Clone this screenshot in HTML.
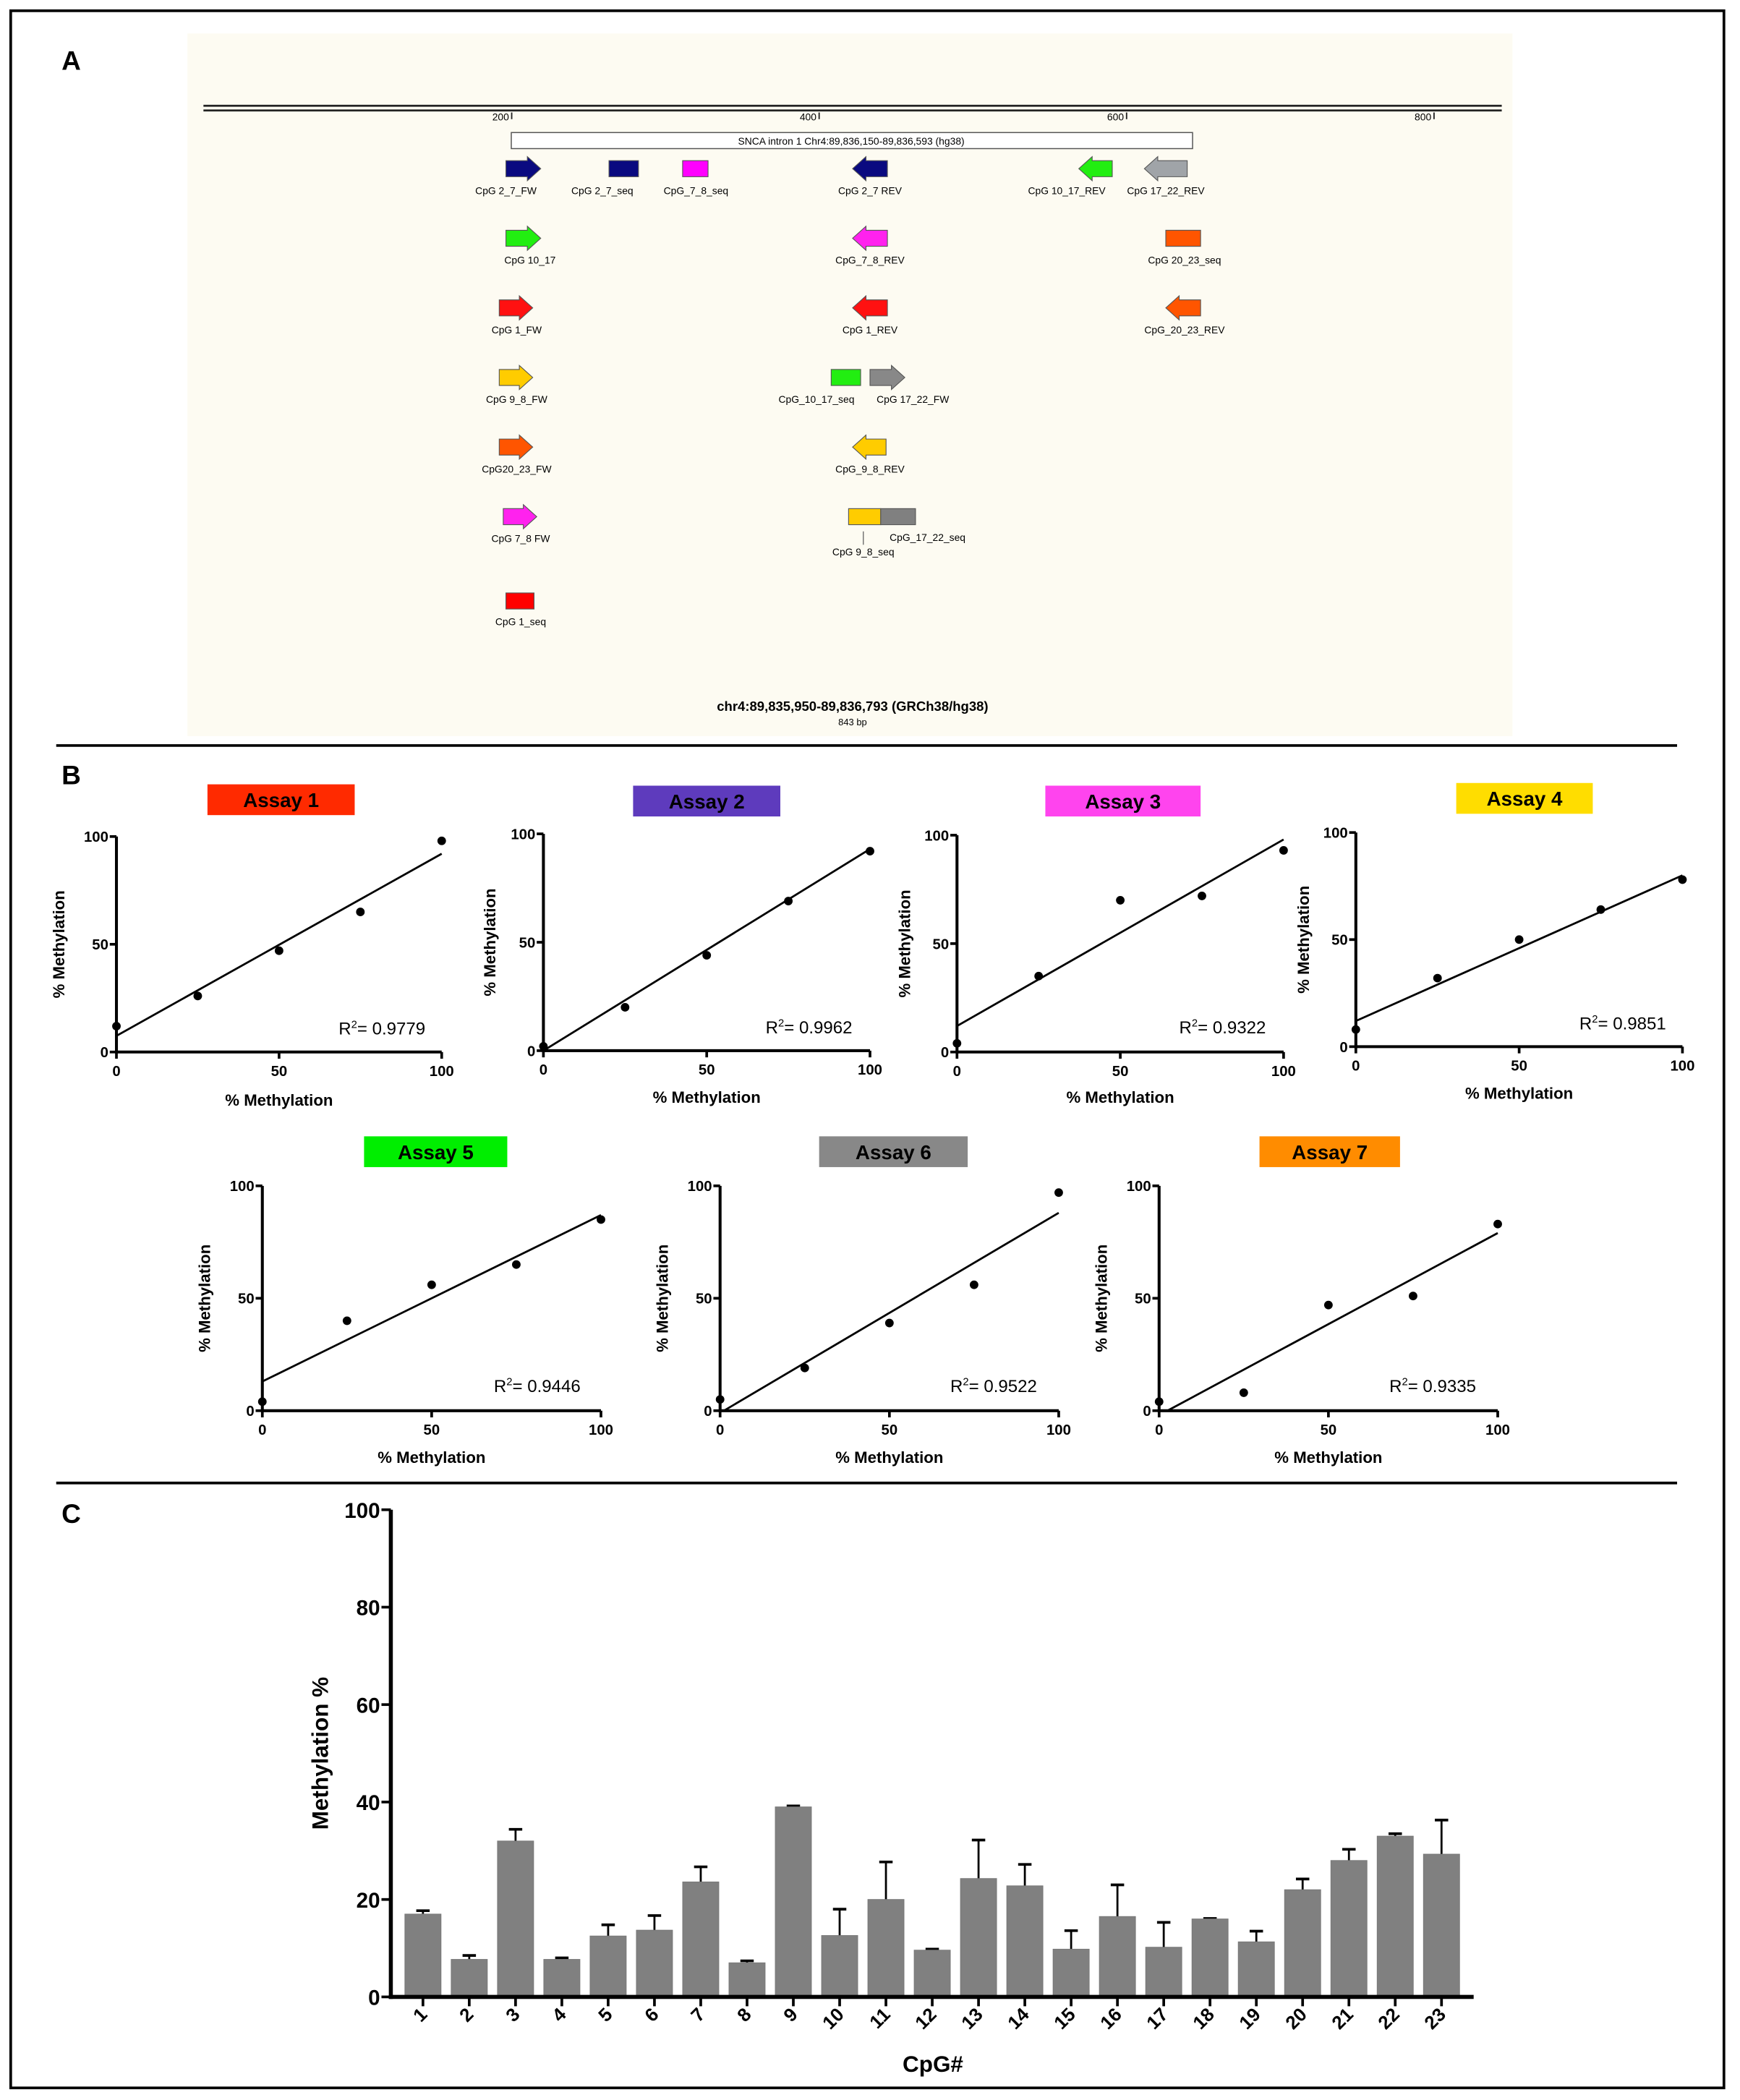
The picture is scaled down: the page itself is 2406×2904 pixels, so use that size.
<!DOCTYPE html>
<html><head><meta charset="utf-8"><style>
html,body{margin:0;padding:0;background:#fff}
svg{display:block}
text{font-family:"Liberation Sans",sans-serif}
</style></head><body>
<svg id="fig" width="2406" height="2904" viewBox="0 0 1300 1569" xmlns="http://www.w3.org/2000/svg">
<rect x="8" y="8" width="1280" height="1552" fill="#fff" stroke="#000" stroke-width="2"/>
<text x="46" y="52" font-size="20" font-weight="bold">A</text>
<text x="46" y="586" font-size="20" font-weight="bold">B</text>
<text x="46" y="1138" font-size="20" font-weight="bold">C</text>
<line x1="42" y1="557" x2="1253" y2="557" stroke="#000" stroke-width="2"/>
<line x1="42" y1="1108" x2="1253" y2="1108" stroke="#000" stroke-width="2"/>
<g id="panelA">
<rect x="140" y="25" width="990" height="525" fill="#fdfbf2"/>
<line x1="152" y1="79" x2="1122" y2="79" stroke="#222" stroke-width="1.5"/>
<line x1="152" y1="82.5" x2="1122" y2="82.5" stroke="#222" stroke-width="1.5"/>
<rect x="382" y="99" width="509" height="12" fill="#fff" stroke="#555" stroke-width="0.8"/>
<text x="636" y="108" font-size="7.5" text-anchor="middle">SNCA intron 1 Chr4:89,836,150-89,836,593 (hg38)</text>
<text x="637" y="531" font-size="10" font-weight="bold" text-anchor="middle">chr4:89,835,950-89,836,793 (GRCh38/hg38)</text>
<text x="637" y="542" font-size="7" text-anchor="middle">843 bp</text>
<line x1="645" y1="397" x2="645" y2="407" stroke="#777" stroke-width="0.8"/>
</g>
<g id="scatters"></g>
<g id="bars"></g>
</svg>
<script>
const NS="http://www.w3.org/2000/svg";
function mk(parent,tag,attrs,txt){const e=document.createElementNS(NS,tag);for(const k in attrs)e.setAttribute(k,attrs[k]);if(txt!==undefined)e.textContent=txt;parent.appendChild(e);return e;}

// ---------- Panel A: ruler ----------
const rulerTicks=[200,400,600,800];
const pA=document.getElementById('panelA');
const bpX=v=>152.6+v*(229.7/200);
rulerTicks.forEach(t=>{
  const l=mk(pA,'line',{x1:bpX(t),y1:84,x2:bpX(t),y2:89,stroke:'#222','stroke-width':1});
  
  
  const tx=mk(pA,'text',{x:bpX(t)-2,y:90,'font-size':7.5,'text-anchor':'end'},String(t));
  
  
});
// features: [label, type, x1, x2, y, color, labelX, labelY]
const features=[
 ['CpG 2_7_FW','R',378,404,126,'#0a0a80',378,145],
 ['CpG 2_7_seq','B',455,477,126,'#0a0a80',450,145],
 ['CpG_7_8_seq','B',510,529,126,'#ff00ff',520,145],
 ['CpG 2_7 REV','L',637,663,126,'#0a0a80',650,145],
 ['CpG 10_17_REV','L',806,831,126,'#22ee11',797,145],
 ['CpG 17_22_REV','L',855,887,126,'#a0a4a8',871,145],
 ['CpG 10_17','R',378,404,178,'#22ee11',396,197],
 ['CpG_7_8_REV','L',637,663,178,'#ff22ee',650,197],
 ['CpG 20_23_seq','B',871,897,178,'#ff5500',885,197],
 ['CpG 1_FW','R',373,398,230,'#ff1111',386,249],
 ['CpG 1_REV','L',637,663,230,'#ff1111',650,249],
 ['CpG_20_23_REV','L',871,897,230,'#ff5500',885,249],
 ['CpG 9_8_FW','R',373,398,282,'#ffcc00',386,301],
 ['CpG_10_17_seq','B',621,643,282,'#22ee11',610,301],
 ['CpG 17_22_FW','R',650,676,282,'#888888',682,301],
 ['CpG20_23_FW','R',373,398,334,'#ff5500',386,353],
 ['CpG_9_8_REV','L',637,662,334,'#ffcc00',650,353],
 ['CpG 7_8 FW','R',376,401,386,'#ff22ee',389,405],
 ['CpG 9_8_seq','B',634,658,386,'#ffcc00',645,415],
 ['CpG_17_22_seq','B',658,684,386,'#808080',693,404],
 ['CpG 1_seq','B',378,399,449,'#ff0000',389,467]
];
features.forEach(f=>{
  const [lab,type,x1,x2,y,col,lx,ly]=f;
  let sh;
  if(type==='B'){
    sh=mk(pA,'rect',{x:x1,y:y-6,width:x2-x1,height:12,fill:col,stroke:'#555','stroke-width':0.6});
  }else{
    const h=10,bh=6,hh=9;
    let pts;
    if(type==='R') pts=[[x1,y-bh],[x2-h,y-bh],[x2-h,y-hh],[x2,y],[x2-h,y+hh],[x2-h,y+bh],[x1,y+bh]];
    else pts=[[x2,y-bh],[x1+h,y-bh],[x1+h,y-hh],[x1,y],[x1+h,y+hh],[x1+h,y+bh],[x2,y+bh]];
    sh=mk(pA,'polygon',{points:pts.map(p=>p.join(',')).join(' '),fill:col,stroke:'#555','stroke-width':0.6});
  }
  
  
  const t=mk(pA,'text',{x:lx,y:ly,'font-size':7.5,'text-anchor':'middle'},lab);
  
  
});

// ---------- Panel B: scatter plots ----------
const assayNames=['Assay 1','Assay 2','Assay 3','Assay 4','Assay 5','Assay 6','Assay 7'];
const expectedX=[0,25,50,75,100];
const assay1Y=[12,26,47,65,98];
const assay2Y=[2,20,44,69,92];
const assay3Y=[4,35,70,72,93];
const assay4Y=[8,32,50,64,78];
const assay5Y=[4,40,56,65,85];
const assay6Y=[5,19,39,56,97];
const assay7Y=[4,8,47,51,83];
const assayY=[assay1Y,assay2Y,assay3Y,assay4Y,assay5Y,assay6Y,assay7Y];
const fitIntercept=[7.5,0,12,12,13,-1,-2];
const fitSlope=[0.845,0.93,0.86,0.68,0.74,0.89,0.81];
const rSquared=['0.9779','0.9962','0.9322','0.9851','0.9446','0.9522','0.9335'];
const axisTicks=[0,50,100];
// layout (not data)
const layouts=[
 {x0:87,x1:330,yT:625,yB:786,bx:155,bw:110,by:586,col:'#ff2a00',tx:'#000',rx:253,ry:773,yt:48,xt:826},
 {x0:406,x1:650,yT:623,yB:785,bx:473,bw:110,by:587,col:'#5e3bbd',tx:'#000',rx:572,ry:772,yt:370,xt:824},
 {x0:715,x1:959,yT:624,yB:786,bx:781,bw:116,by:587,col:'#ff44ee',tx:'#000',rx:881,ry:772,yt:680,xt:824},
 {x0:1013,x1:1257,yT:622,yB:782,bx:1088,bw:102,by:585,col:'#ffdd00',tx:'#000',rx:1180,ry:769,yt:978,xt:821},
 {x0:196,x1:449,yT:886,yB:1054,bx:272,bw:107,by:849,col:'#00ee00',tx:'#000',rx:369,ry:1040,yt:157,xt:1093},
 {x0:538,x1:791,yT:886,yB:1054,bx:612,bw:111,by:849,col:'#888888',tx:'#000',rx:710,ry:1040,yt:499,xt:1093},
 {x0:866,x1:1119,yT:886,yB:1054,bx:941,bw:105,by:849,col:'#ff8c00',tx:'#000',rx:1038,ry:1040,yt:827,xt:1093}
];
const sc=document.getElementById('scatters');
layouts.forEach((L,i)=>{
  const g=mk(sc,'g',{});
  
  
  const X=v=>L.x0+(L.x1-L.x0)*v/100, Y=v=>L.yB-(L.yB-L.yT)*v/100;
  const b=mk(g,'rect',{x:L.bx,y:L.by,width:L.bw,height:23,fill:L.col});
  
  
  const bt=mk(g,'text',{x:L.bx+L.bw/2,y:L.by+17,'font-size':15,'font-weight':'bold','text-anchor':'middle'},assayNames[i]);
  
  
  const ya=mk(g,'line',{x1:L.x0,y1:L.yT,x2:L.x0,y2:L.yB+1,stroke:'#000','stroke-width':2.2});
  
  
  const xa=mk(g,'line',{x1:L.x0-1,y1:L.yB,x2:L.x1,y2:L.yB,stroke:'#000','stroke-width':2.2});
  
  
  axisTicks.forEach(t=>{
    const a=mk(g,'line',{x1:L.x0-5,y1:Y(t),x2:L.x0,y2:Y(t),stroke:'#000','stroke-width':2});
    
    
    const at=mk(g,'text',{x:L.x0-6,y:Y(t)+4,'font-size':11,'font-weight':'bold','text-anchor':'end'},String(t));
    
    
    const c=mk(g,'line',{x1:X(t),y1:L.yB,x2:X(t),y2:L.yB+5,stroke:'#000','stroke-width':2});
    
    
    const ct=mk(g,'text',{x:X(t),y:L.yB+18,'font-size':11,'font-weight':'bold','text-anchor':'middle'},String(t));
    
    
  });
  let xs=0; if(fitIntercept[i]<0) xs=-fitIntercept[i]/fitSlope[i];
  const fl=mk(g,'line',{x1:X(xs),y1:Y(fitIntercept[i]+fitSlope[i]*xs),x2:X(100),y2:Y(fitIntercept[i]+fitSlope[i]*100),stroke:'#000','stroke-width':1.5});
  
  
  expectedX.forEach((xv,j)=>{
    const p=mk(g,'circle',{cx:X(xv),cy:Y(assayY[i][j]),r:3.2,fill:'#000'});
    
    
  });
  const r=mk(g,'text',{x:L.rx,y:L.ry,'font-size':13});
  
  
  r.appendChild(document.createTextNode('R'));
  mk(r,'tspan',{'font-size':8,dy:-5},'2');
  mk(r,'tspan',{dy:5},'= '+rSquared[i]);
  const yt=mk(g,'text',{x:L.yt,y:(L.yT+L.yB)/2,'font-size':12,'font-weight':'bold','text-anchor':'middle',transform:`rotate(-90 ${L.yt} ${(L.yT+L.yB)/2})`},'% Methylation');
  
  
  const xt=mk(g,'text',{x:(L.x0+L.x1)/2,y:L.xt,'font-size':12,'font-weight':'bold','text-anchor':'middle'},'% Methylation');
  
  
});

// ---------- Panel C: bar chart ----------
const cpgLabels=['1','2','3','4','5','6','7','8','9','10','11','12','13','14','15','16','17','18','19','20','21','22','23'];
const cpgMeans=[17,7.7,32,7.7,12.5,13.7,23.6,7,39,12.6,20,9.6,24.3,22.8,9.8,16.5,10.2,16,11.3,22,28,33,29.3];
const cpgErrTop=[17.7,8.5,34.4,8,14.8,16.7,26.7,7.4,39.2,18,27.7,9.8,32.2,27.2,13.6,23,15.3,16.1,13.5,24.2,30.3,33.5,36.3];
const barTicks=[0,20,40,60,80,100];
const bg=document.getElementById('bars');
const cx0=292,cx1=1101,cyT=1128,cyB=1492;
const by=v=>cyB-(cyB-cyT)*v/100;
const bx=i=>316+i*((1077-316)/22);
cpgMeans.forEach((v,i)=>{
  const eb=mk(bg,'line',{x1:bx(i),y1:by(v),x2:bx(i),y2:by(cpgErrTop[i]),stroke:'#000','stroke-width':1.5});
  
  
  const ec=mk(bg,'line',{x1:bx(i)-5,y1:by(cpgErrTop[i]),x2:bx(i)+5,y2:by(cpgErrTop[i]),stroke:'#000','stroke-width':2});
  
  
  const r=mk(bg,'rect',{x:bx(i)-13.5,y:by(v),width:27,height:cyB-by(v),fill:'#808080',stroke:'#777','stroke-width':0.5});
  
  
  const tk=mk(bg,'line',{x1:bx(i),y1:cyB,x2:bx(i),y2:cyB+7,stroke:'#000','stroke-width':2});
  
  
  const tx=mk(bg,'text',{x:bx(i)+4,y:cyB+14,'font-size':14,'font-weight':'bold','text-anchor':'end',transform:`rotate(-45 ${bx(i)+4} ${cyB+14})`},cpgLabels[i]);
  
  
});
const cya=mk(bg,'line',{x1:cx0,y1:cyT,x2:cx0,y2:cyB+1.5,stroke:'#000','stroke-width':3});


const cxa=mk(bg,'line',{x1:cx0-1.5,y1:cyB,x2:cx1,y2:cyB,stroke:'#000','stroke-width':3});


barTicks.forEach(t=>{
  const l=mk(bg,'line',{x1:cx0-7,y1:by(t),x2:cx0,y2:by(t),stroke:'#000','stroke-width':2});
  
  
  const tx=mk(bg,'text',{x:cx0-8,y:by(t)+6,'font-size':16,'font-weight':'bold','text-anchor':'end'},String(t));
  
  
});
const cyt=mk(bg,'text',{x:245,y:1310,'font-size':17,'font-weight':'bold','text-anchor':'middle',transform:'rotate(-90 245 1310)'},'Methylation %');


const cxt=mk(bg,'text',{x:697,y:1548,'font-size':17,'font-weight':'bold','text-anchor':'middle'},'CpG#');


</script>
</body></html>
